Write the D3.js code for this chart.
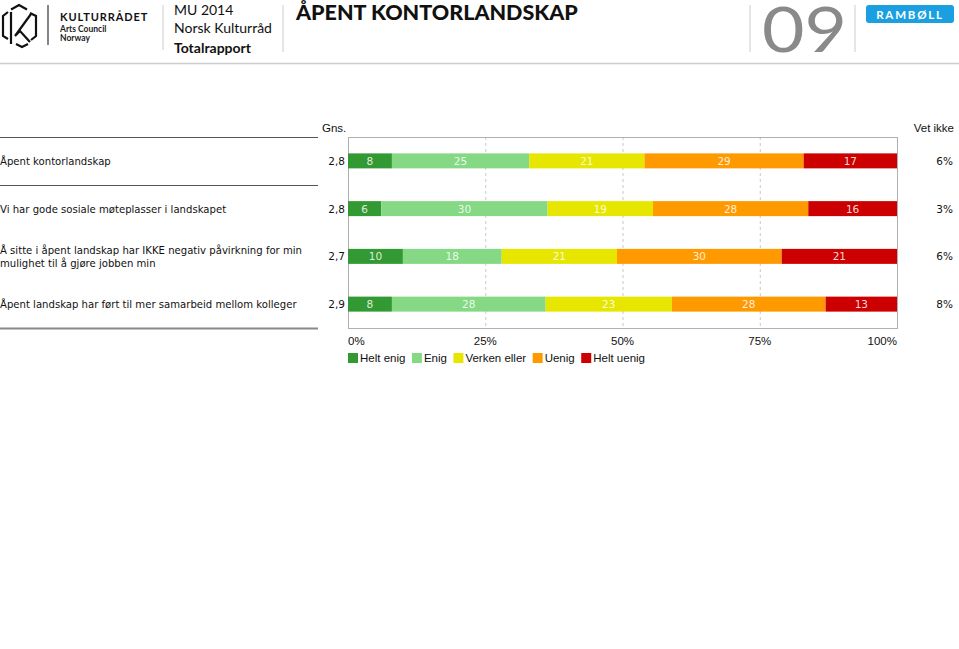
<!DOCTYPE html>
<html><head><meta charset="utf-8">
<script src="https://cdn.jsdelivr.net/npm/d3@7"></script>
<style>
html,body{margin:0;padding:0;background:#fff;}
svg{display:block;}
</style></head>
<body>
<svg id="c" width="959" height="649"></svg>
<script>
const categories = [
  "Åpent kontorlandskap",
  "Vi har gode sosiale møteplasser i landskapet",
  "Å sitte i åpent landskap har IKKE negativ påvirkning for min|mulighet til å gjøre jobben min",
  "Åpent landskap har ført til mer samarbeid mellom kolleger"
];
const seriesNames = ["Helt enig", "Enig", "Verken eller", "Uenig", "Helt uenig"];
const heltEnig   = [8, 6, 10, 8];
const enig       = [25, 30, 18, 28];
const verken     = [21, 19, 21, 23];
const uenig      = [29, 28, 30, 28];
const heltUenig  = [17, 16, 21, 13];
const gns        = ["2,8", "2,8", "2,7", "2,9"];
const vetIkke    = ["6%", "3%", "6%", "8%"];
const tickValues = [0, 25, 50, 75, 100];
const tickLabels = ["0%", "25%", "50%", "75%", "100%"];
const colors = ["#339933", "#85d985", "#e6e600", "#ff9900", "#cc0000"];

const svg = d3.select("#c");
const font = "'DejaVu Sans', Verdana, sans-serif";
const afont = "'Liberation Sans', Arial, sans-serif";
const hfont = "Lato, 'Open Sans', sans-serif";

// ---------- header ----------
const hdr = svg.append("g");
const lg = hdr.append("g").attr("fill","none").attr("stroke","#111").attr("stroke-width",2.2);
lg.append("path").attr("d","M12,9 L19,5 L26,9").attr("stroke-linecap","square");
lg.append("path").attr("d","M30,13 L36,16 L36,36 L31,40");
lg.append("path").attr("d","M8,12 L3,16 L3,36 L8,39");
lg.append("path").attr("d","M11,12 L11,44");
lg.append("path").attr("d","M31,14 L15,36 L20,31 L30,42");
lg.append("path").attr("d","M16,44 L22,47 L28,44");
hdr.append("text").attr("x",60).attr("y",21).attr("font-family",hfont).attr("font-weight","bold")
  .attr("font-size",11).attr("letter-spacing",0.9).attr("fill","#111").text("KULTURRÅDET");
hdr.append("text").attr("x",60).attr("y",32).attr("font-family",hfont).attr("font-weight","bold")
  .attr("font-size",8.5).attr("fill","#222").text("Arts Council");
hdr.append("text").attr("x",60).attr("y",41).attr("font-family",hfont).attr("font-weight","bold")
  .attr("font-size",8.5).attr("fill","#222").text("Norway");
[[48,5,48,45],[163,5,163,50],[283,5,283,52],[750,5,750,52],[855,5,855,52]].forEach(l=>{
  hdr.append("line").attr("x1",l[0]).attr("y1",l[1]).attr("x2",l[2]).attr("y2",l[3])
    .attr("stroke", l[0]===48 ? "#333" : "#ccc").attr("stroke-width", l[0]===48?1.2:1);
});
hdr.append("text").attr("x",174).attr("y",15).attr("font-family",hfont).attr("font-size",14).attr("fill","#111").text("MU 2014");
hdr.append("text").attr("x",174).attr("y",33).attr("font-family",hfont).attr("font-size",14).attr("fill","#111").text("Norsk Kulturråd");
hdr.append("text").attr("x",174).attr("y",53).attr("font-family",hfont).attr("font-weight","bold").attr("font-size",14).attr("fill","#111").text("Totalrapport");
hdr.append("text").attr("x",296).attr("y",20).attr("font-family",hfont).attr("font-weight","900")
  .attr("font-size",21.5).attr("fill","#111").text("ÅPENT KONTORLANDSKAP");
hdr.append("text").attr("x",762).attr("y",52).attr("font-family",hfont).attr("font-weight","400")
  .attr("font-size",61).attr("fill","#8a8a8a").attr("textLength",85).attr("lengthAdjust","spacingAndGlyphs").text("09");
hdr.append("rect").attr("x",866).attr("y",5).attr("width",88).attr("height",18).attr("rx",3).attr("fill","#1a9fe0");
hdr.append("text").attr("x",910).attr("y",19).attr("text-anchor","middle").attr("font-family",hfont)
  .attr("font-weight","bold").attr("font-size",11.5).attr("letter-spacing",1.8).attr("fill","#fff").text("RAMBØLL");
hdr.append("line").attr("x1",0).attr("x2",959).attr("y1",63.5).attr("y2",63.5).attr("stroke","#ccc").attr("stroke-width",1.5);

// ---------- chart ----------
const pLeft = 348, pRight = 897, pTop = 137, pBottom = 328;
const x = d3.scaleLinear().domain([0,100]).range([pLeft,pRight]);
const y = d3.scaleBand().domain(d3.range(categories.length)).range([pTop,pBottom]);
const barH = 15;

const rows = categories.map((c,i)=>{
  const vals = [heltEnig[i], enig[i], verken[i], uenig[i], heltUenig[i]];
  const total = d3.sum(vals);
  let cum = 0;
  const segs = vals.map((v,k)=>{ const s={k, v, x0:cum/total*100, x1:(cum+v)/total*100}; cum+=v; return s;});
  return {c, i, segs};
});

svg.append("g").selectAll("line").data(tickValues.slice(1,-1)).join("line")
  .attr("x1",d=>x(d)+0.5).attr("x2",d=>x(d)+0.5).attr("y1",pTop).attr("y2",pBottom)
  .attr("stroke","#c8c8c8").attr("stroke-dasharray","3,3");
svg.append("rect").attr("x",pLeft+0.5).attr("y",pTop+0.5).attr("width",pRight-pLeft).attr("height",pBottom-pTop)
  .attr("fill","none").attr("stroke","#b0b0b0");

const rg = svg.append("g").selectAll("g").data(rows).join("g");
rg.selectAll("rect").data(d=>d.segs.map(s=>({...s, i:d.i}))).join("rect")
  .attr("x",s=>x(s.x0)).attr("width",s=>x(s.x1)-x(s.x0))
  .attr("y",s=>y(s.i)+y.bandwidth()/2-barH/2).attr("height",barH)
  .attr("fill",s=>colors[s.k]);
rg.selectAll("text").data(d=>d.segs.map(s=>({...s, i:d.i}))).join("text")
  .attr("x",s=>(x(s.x0)+x(s.x1))/2).attr("y",s=>y(s.i)+y.bandwidth()/2+4)
  .attr("text-anchor","middle").attr("font-family",font).attr("font-size",10.5)
  .attr("fill","#fff").attr("fill-opacity",0.85).text(s=>s.v);

rows.forEach(r=>{
  const cy = y(r.i)+y.bandwidth()/2;
  const lines = r.c.split("|");
  const t = svg.append("text").attr("font-family",font).attr("font-size",10.1).attr("fill","#111");
  lines.forEach((ln,j)=>{
    t.append("tspan").attr("x",0).attr("y",cy+4 - (lines.length-1)*6.5 + j*13).text(ln);
  });
  svg.append("text").attr("x",345).attr("y",cy+4).attr("text-anchor","end")
    .attr("font-family",font).attr("font-size",10.5).attr("fill","#111").text(gns[r.i]);
  svg.append("text").attr("x",953).attr("y",cy+4).attr("text-anchor","end")
    .attr("font-family",font).attr("font-size",10.5).attr("fill","#111").text(vetIkke[r.i]);
});
svg.append("text").attr("x",322).attr("y",132).attr("font-family",afont).attr("font-size",11.5).attr("fill","#111").text("Gns.");
svg.append("text").attr("x",954).attr("y",132).attr("text-anchor","end").attr("font-family",afont).attr("font-size",11.5).attr("fill","#111").text("Vet ikke");

svg.append("line").attr("x1",0).attr("x2",318).attr("y1",137.5).attr("y2",137.5).attr("stroke","#555");
svg.append("line").attr("x1",0).attr("x2",318).attr("y1",185.5).attr("y2",185.5).attr("stroke","#555");
svg.append("line").attr("x1",0).attr("x2",318).attr("y1",328.5).attr("y2",328.5).attr("stroke","#888").attr("stroke-width",2);

const ax = svg.append("g").attr("font-family",afont).attr("font-size",11.5).attr("fill","#111");
ax.selectAll("text").data(tickValues).join("text")
  .attr("x",d=>x(d)).attr("y",345)
  .attr("text-anchor",(d,i)=> i===0 ? "start" : (i===tickValues.length-1 ? "end" : "middle"))
  .text((d,i)=>tickLabels[i]);

const leg = svg.append("g").attr("font-family",afont).attr("font-size",11.5);
let lx = 348;
seriesNames.forEach((n,k)=>{
  leg.append("rect").attr("x",lx).attr("y",353).attr("width",10).attr("height",10).attr("fill",colors[k]);
  const t = leg.append("text").attr("x",lx+12).attr("y",362).attr("fill","#111").text(n);
  lx += 12 + t.node().getComputedTextLength() + 6.5;
});
</script>
</body></html>
